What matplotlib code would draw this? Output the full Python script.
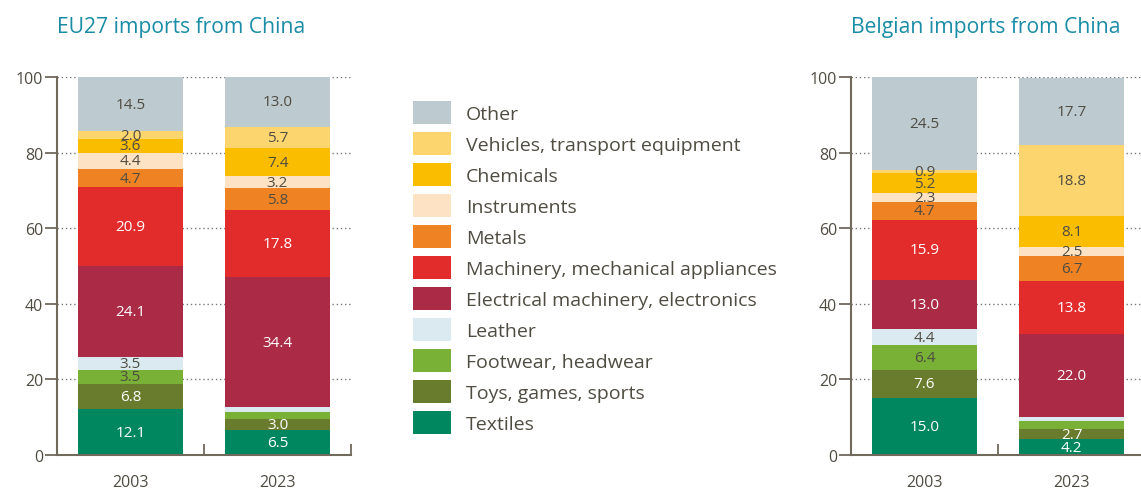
import matplotlib
matplotlib.use("Agg")
import matplotlib.pyplot as plt
from matplotlib.patches import Patch
from matplotlib.ticker import FixedLocator

plt.rcParams['font.family'] = ['Open Sans', 'DejaVu Sans']

# Product groups, stacked bottom to top
categories = [
    'Textiles',
    'Toys, games, sports',
    'Footwear, headwear',
    'Leather',
    'Electrical machinery, electronics',
    'Machinery, mechanical appliances',
    'Metals',
    'Instruments',
    'Chemicals',
    'Vehicles, transport equipment',
    'Other',
]
colors = ['#00875f', '#697c2e', '#78b136', '#daeaf0', '#ab2b47', '#e22b2b',
          '#ef8323', '#fde3c4', '#fbbd00', '#fdd56f', '#bdcad0']
label_colors = ['white', 'white', '#4f4c42', '#4f4c42', 'white', 'white',
                '#4f4c42', '#4f4c42', '#4f4c42', '#4f4c42', '#4f4c42']

years = ['2003', '2023']

# Shares (%) of imports from China
eu_2003 = [12.1, 6.8, 3.5, 3.5, 24.1, 20.9, 4.7, 4.4, 3.6, 2.0, 14.5]
eu_2023 = [6.5, 3.0, 2.0, 1.1, 34.4, 17.8, 5.8, 3.2, 7.4, 5.7, 13.0]
be_2003 = [15.0, 7.6, 6.4, 4.4, 13.0, 15.9, 4.7, 2.3, 5.2, 0.9, 24.5]
be_2023 = [4.2, 2.7, 2.2, 1.0, 22.0, 13.8, 6.7, 2.5, 8.1, 18.8, 17.7]

# Segments left without a value label (too thin)
eu_2023_unlabelled = ['Footwear, headwear', 'Leather']
be_2023_unlabelled = ['Footwear, headwear', 'Leather']

TEXT = '#4f4c42'
AXIS = '#6f6a5c'
TITLE = '#1b8ca6'

W, H = 1141, 489
fig = plt.figure(figsize=(W / 100, H / 100), dpi=100)


def panel(left_px, title, series, unlabelled):
    ax = fig.add_axes([left_px / W, 33 / H, 294 / W, 378 / H])
    xs = [0.5, 1.5]
    for xi, (vals, skip) in enumerate(zip(series, unlabelled)):
        bottom = 0.0
        for ci, v in enumerate(vals):
            ax.bar(xs[xi], v, bottom=bottom, width=0.7075, color=colors[ci],
                   linewidth=0, zorder=2)
            if categories[ci] not in skip:
                ax.text(xs[xi], bottom + v / 2, f'{v:.1f}', ha='center',
                        va='center', fontsize=11, color=label_colors[ci],
                        zorder=3)
            bottom += v
    ax.set_xlim(0, 2)
    ax.set_ylim(0, 100)
    ax.set_yticks(range(0, 101, 20))
    ax.set_xticks(xs)
    ax.set_xticklabels(years)
    ax.xaxis.set_minor_locator(FixedLocator([1.0, 2.0]))
    ax.tick_params(axis='y', direction='out', length=8.5, width=1.3,
                   color=AXIS, labelcolor=TEXT, labelsize=11.5, pad=1.5)
    ax.tick_params(axis='x', which='major', length=0, labelcolor=TEXT,
                   labelsize=11.5, pad=13.5)
    ax.tick_params(axis='x', which='minor', direction='in', length=8,
                   width=1.3, color=AXIS)
    for side in ('top', 'right'):
        ax.spines[side].set_visible(False)
    for side in ('left', 'bottom'):
        ax.spines[side].set_color(AXIS)
        ax.spines[side].set_linewidth(1.5)
    ax.yaxis.grid(True, linestyle=(0, (1, 2)), color='#777777',
                  linewidth=1.0, zorder=0)
    ax.set_axisbelow(True)
    ax.patch.set_alpha(0)
    fig.text(left_px / W, 1 - 33 / H, title, fontsize=15.2, color=TITLE,
             ha='left', va='baseline')
    return ax


panel(57, 'EU27 imports from China', [eu_2003, eu_2023],
      [[], eu_2023_unlabelled])
panel(851, 'Belgian imports from China', [be_2003, be_2023],
      [[], be_2023_unlabelled])

handles = [Patch(facecolor=c, edgecolor='none') for c in colors][::-1]
labels = categories[::-1]
fig.legend(handles, labels, loc='upper left',
           bbox_to_anchor=(413 / W, 1 - 102 / H),
           bbox_transform=fig.transFigure, frameon=False,
           fontsize=14, labelcolor=TEXT, handlelength=1.95,
           handleheight=1.443, handletextpad=0.77, labelspacing=0.41,
           borderpad=0, borderaxespad=0)

fig.savefig('out.png', dpi=100)
